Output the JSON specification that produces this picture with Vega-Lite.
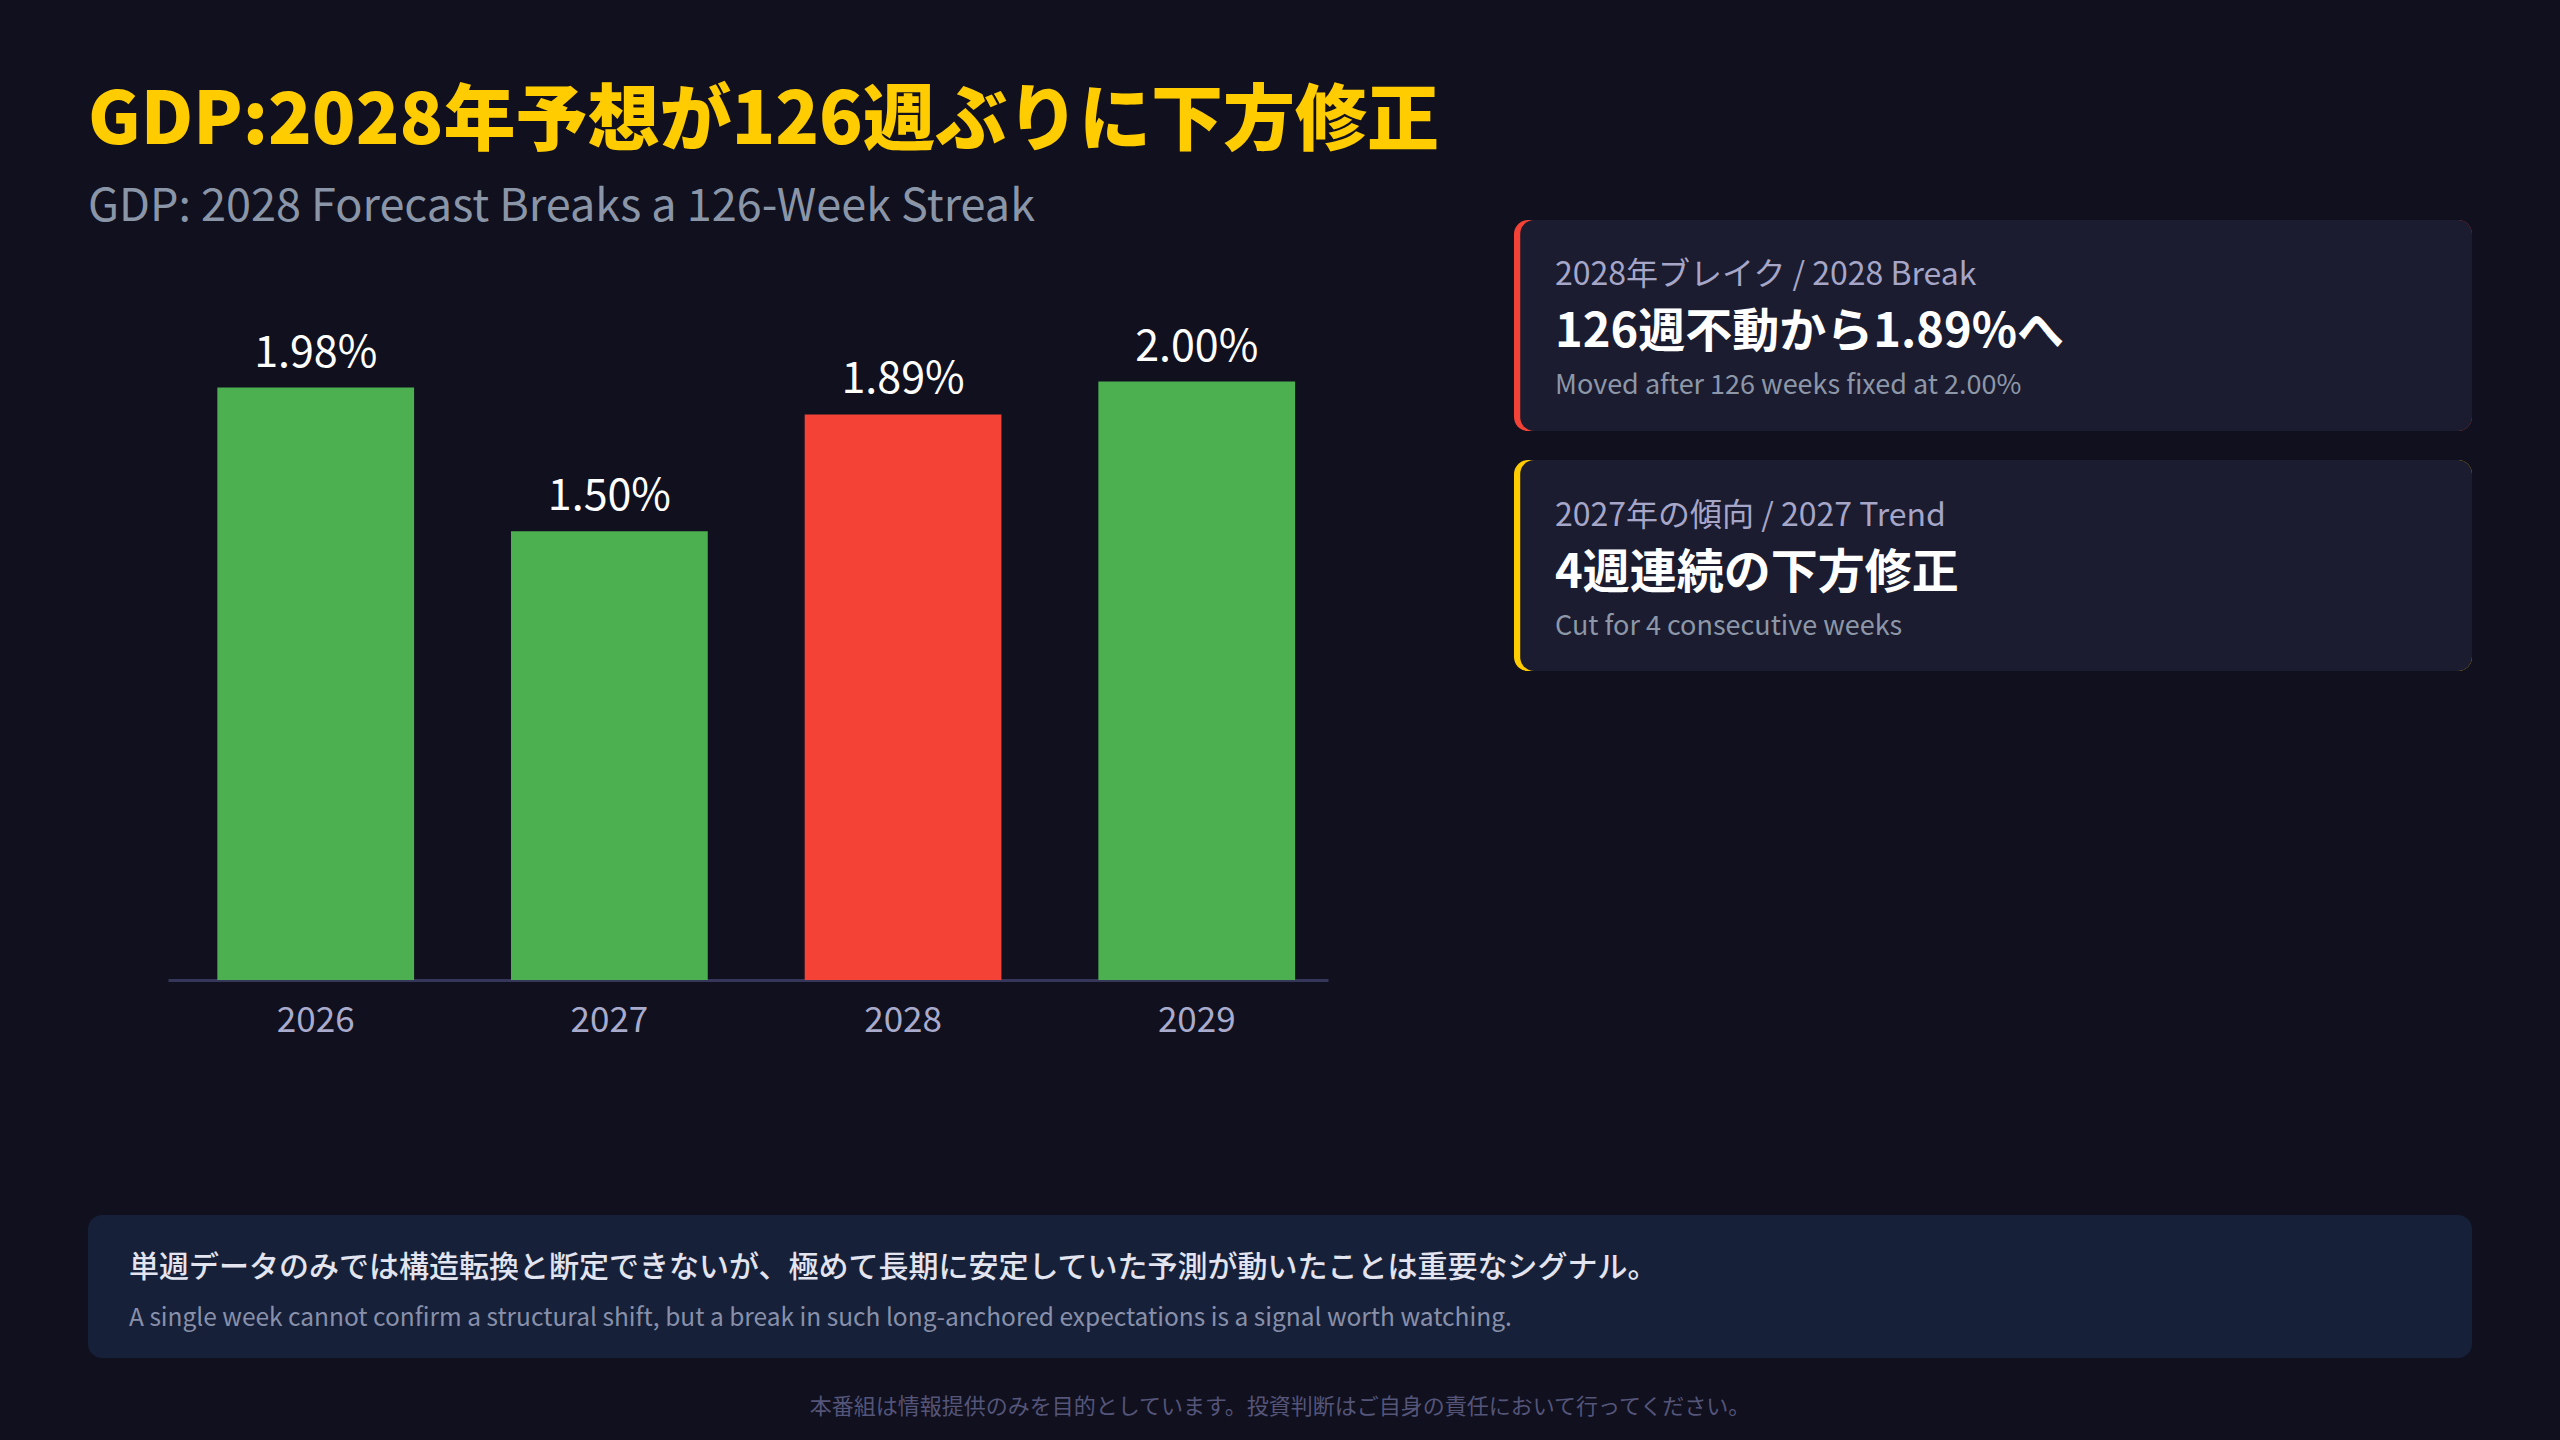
{
  "$schema": "https://vega.github.io/schema/vega-lite/v6.json",
  "background": "#10101e",
  "padding": {"left": 88, "right": 88, "top": 85, "bottom": 30},
  "title": {
    "text": "GDP:2028年予想が126週ぶりに下方修正",
    "subtitle": "GDP: 2028 Forecast Breaks a 126-Week Streak",
    "anchor": "start",
    "font": "Noto Sans CJK JP",
    "fontSize": 72,
    "fontWeight": 900,
    "color": "#FFCC00",
    "subtitleFont": "Noto Sans CJK JP",
    "subtitleFontSize": 45,
    "subtitleFontWeight": 400,
    "subtitleColor": "#8a96a8",
    "subtitlePadding": 26,
    "offset": -16
  },
  "config": {
    "font": "Noto Sans CJK JP",
    "view": {"stroke": null}
  },
  "spacing": 177,
  "vconcat": [
    {
      "spacing": 79,
      "hconcat": [
        {
          "width": 1,
          "height": 1,
          "data": {"values": [{"gap": ""}]},
          "mark": {"type": "text"},
          "encoding": {"text": {"field": "gap"}}
        },
        {
          "spacing": 186,
          "resolve": {"scale": {"color": "independent", "x": "independent", "y": "independent"}},
          "hconcat": [
            {
              "width": 1160,
              "height": 760,
              "data": {
                "values": [
                  {"year": "2026", "gdp": 1.98, "label": "1.98%", "status": "hold"},
                  {"year": "2027", "gdp": 1.5, "label": "1.50%", "status": "hold"},
                  {"year": "2028", "gdp": 1.89, "label": "1.89%", "status": "break"},
                  {"year": "2029", "gdp": 2.0, "label": "2.00%", "status": "hold"}
                ]
              },
              "encoding": {
                "x": {
                  "field": "year",
                  "type": "nominal",
                  "scale": {"paddingInner": 0.33, "paddingOuter": 0.14, "align": 0.6},
                  "axis": {
                    "title": null,
                    "labelAngle": 0,
                    "labelFontSize": 35,
                    "labelColor": "#a9abcc",
                    "labelPadding": 23,
                    "ticks": false,
                    "grid": false,
                    "domainColor": "#35365a",
                    "domainWidth": 3
                  }
                },
                "y": {
                  "field": "gdp",
                  "type": "quantitative",
                  "scale": {"domain": [0, 2.54], "nice": false},
                  "axis": null
                }
              },
              "layer": [
                {
                  "mark": {"type": "bar"},
                  "encoding": {
                    "color": {
                      "field": "status",
                      "type": "nominal",
                      "scale": {"domain": ["hold", "break"], "range": ["#4CAF50", "#F44336"]},
                      "legend": null
                    }
                  }
                },
                {
                  "mark": {"type": "text", "baseline": "alphabetic", "dy": -21, "fontSize": 43, "color": "#ffffff"},
                  "encoding": {"text": {"field": "label"}}
                }
              ]
            },
            {
              "width": 958,
              "height": 451,
              "data": {
                "values": [
                  {"card": "1", "kicker": "2028年ブレイク / 2028 Break", "headline": "126週不動から1.89%へ", "note": "Moved after 126 weeks fixed at 2.00%", "accent": "break"},
                  {"card": "2", "kicker": "2027年の傾向 / 2027 Trend", "headline": "4週連続の下方修正", "note": "Cut for 4 consecutive weeks", "accent": "trend"}
                ]
              },
              "encoding": {
                "y": {
                  "field": "card",
                  "type": "nominal",
                  "axis": null,
                  "scale": {"paddingInner": 0.121, "paddingOuter": 0}
                }
              },
              "layer": [
                {
                  "mark": {"type": "rect", "cornerRadius": 14},
                  "encoding": {
                    "x": {"datum": 0, "type": "quantitative", "scale": {"domain": [0, 1]}, "axis": null},
                    "x2": {"datum": 1},
                    "color": {
                      "field": "accent",
                      "type": "nominal",
                      "scale": {"domain": ["break", "trend"], "range": ["#F44336", "#FFCC00"]},
                      "legend": null
                    }
                  }
                },
                {
                  "mark": {"type": "rect", "cornerRadius": 14, "color": "#1b1c2f"},
                  "encoding": {
                    "x": {"datum": 0.0065, "type": "quantitative"},
                    "x2": {"datum": 1}
                  }
                },
                {
                  "mark": {"type": "text", "align": "left", "baseline": "middle", "dx": 41, "dy": -50, "fontSize": 32, "color": "#a6a6c8"},
                  "encoding": {"x": {"datum": 0, "type": "quantitative"}, "text": {"field": "kicker"}}
                },
                {
                  "mark": {"type": "text", "align": "left", "baseline": "middle", "dx": 41, "dy": 8, "fontSize": 47, "fontWeight": "bold", "color": "#ffffff"},
                  "encoding": {"x": {"datum": 0, "type": "quantitative"}, "text": {"field": "headline"}}
                },
                {
                  "mark": {"type": "text", "align": "left", "baseline": "middle", "dx": 41, "dy": 61, "fontSize": 27, "color": "#8d97a8"},
                  "encoding": {"x": {"datum": 0, "type": "quantitative"}, "text": {"field": "note"}}
                }
              ]
            }
          ]
        }
      ]
    },
    {
      "spacing": 34,
      "vconcat": [
        {
          "width": 2384,
          "height": 143,
          "view": {"fill": "#172039", "cornerRadius": 14, "stroke": null},
          "data": {
            "values": [
              {
                "ja": "単週データのみでは構造転換と断定できないが、極めて長期に安定していた予測が動いたことは重要なシグナル。",
                "en": "A single week cannot confirm a structural shift, but a break in such long-anchored expectations is a signal worth watching."
              }
            ]
          },
          "encoding": {
            "x": {"datum": 0, "type": "quantitative", "scale": {"domain": [0, 1]}, "axis": null},
            "y": {"datum": 0.5, "type": "quantitative", "scale": {"domain": [0, 1]}, "axis": null}
          },
          "layer": [
            {
              "mark": {"type": "text", "align": "left", "baseline": "middle", "dx": 41, "dy": -19, "fontSize": 30, "fontWeight": 500, "color": "#e2e4f0"},
              "encoding": {"text": {"field": "ja"}}
            },
            {
              "mark": {"type": "text", "align": "left", "baseline": "middle", "dx": 41, "dy": 32, "fontSize": 24.5, "color": "#8890aa"},
              "encoding": {"text": {"field": "en"}}
            }
          ]
        },
        {
          "width": 2384,
          "height": 30,
          "data": {"values": [{"disclaimer": "本番組は情報提供のみを目的としています。投資判断はご自身の責任において行ってください。"}]},
          "mark": {"type": "text", "align": "center", "baseline": "middle", "fontSize": 22, "color": "#55557a"},
          "encoding": {
            "x": {"datum": 0.5, "type": "quantitative", "scale": {"domain": [0, 1]}, "axis": null},
            "y": {"datum": 0.5, "type": "quantitative", "scale": {"domain": [0, 1]}, "axis": null},
            "text": {"field": "disclaimer"}
          }
        }
      ]
    }
  ]
}
